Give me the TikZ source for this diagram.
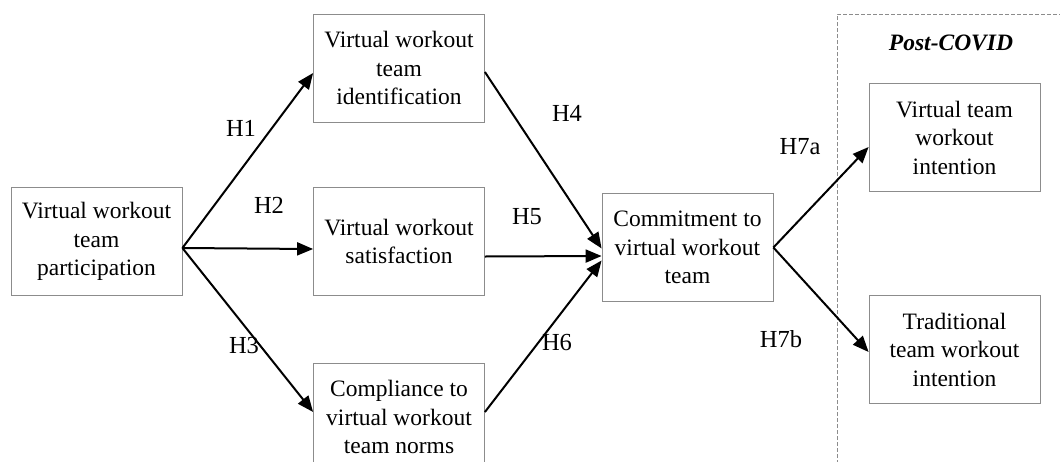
\documentclass[tikz,border=0pt]{standalone}
\usepackage{fontspec}
\setmainfont{Liberation Serif}
\usetikzlibrary{arrows.meta}
\begin{document}
\begin{tikzpicture}[x=1pt,y=-1pt,
  box/.style={draw=black!45, line width=0.8pt, minimum width=171pt, minimum height=108pt,
    align=center, inner sep=0pt, font=\fontsize{23.5}{28.5}\selectfont},
  lab/.style={font=\fontsize{24.5}{28}\selectfont, inner sep=0pt},
  arr/.style={line width=2pt, -{Triangle[length=16pt,width=13pt]}},
  region/.style={draw=black!45, line width=0.7pt, dash pattern=on 4pt off 2pt}]
\clip (0,0) rectangle (1060,461);
\node[box] (A) at (96.5,241.5) {Virtual workout\\team\\participation};
\node[box] (B) at (399,68) {Virtual workout\\team\\identification};
\node[box] (C) at (399,241.5) {Virtual workout\\satisfaction};
\node[box] (D) at (399,417) {Compliance to\\virtual workout\\team norms};
\node[box] (E) at (687.5,247.5) {Commitment to\\virtual workout\\team};
\node[box] (F) at (954.5,137.5) {Virtual team\\workout\\intention};
\node[box] (G) at (954.5,349.5) {Traditional\\team workout\\intention};
% post-covid region
\coordinate (r1) at (837,470);
\coordinate (r2) at (837,14);
\coordinate (r3) at (1070,14);
\draw[region] (r1) -- (r2) -- (r3);
\node[lab, font=\fontsize{23.5}{28}\selectfont\bfseries\itshape] (P) at (951,43) {Post-COVID};
% connectors
\coordinate (a0) at ([yshift=-6.5pt]A.east);
\draw[arr] (a0) -- ([yshift=-5pt]B.west);
\draw[arr] (a0) -- ([yshift=-7.5pt]C.west);
\draw[arr] (a0) -- ([yshift=5pt]D.west);
\draw[arr] ([yshift=-4pt]B.east) -- ([yshift=-1pt]E.west);
\draw[arr] ([yshift=-15pt]C.east) -- ([yshift=-8.5pt]E.west);
\draw[arr] ([yshift=5pt]D.east) -- ([yshift=-13pt]E.west);
\draw[arr] (E.east) -- ([yshift=-9.5pt]F.west);
\draw[arr] (E.east) -- ([yshift=-2.5pt]G.west);
% labels
\node[lab] (h1) at (241,128) {H1};
\node[lab] (h2) at (269,205) {H2};
\node[lab] (h3) at (244,346) {H3};
\node[lab] (h4) at (567,113) {H4};
\node[lab] (h5) at (527,217) {H5};
\node[lab] (h6) at (557,343) {H6};
\node[lab] (h7a) at (800,147) {H7a};
\node[lab] (h7b) at (781,339) {H7b};
\end{tikzpicture}
\end{document}
